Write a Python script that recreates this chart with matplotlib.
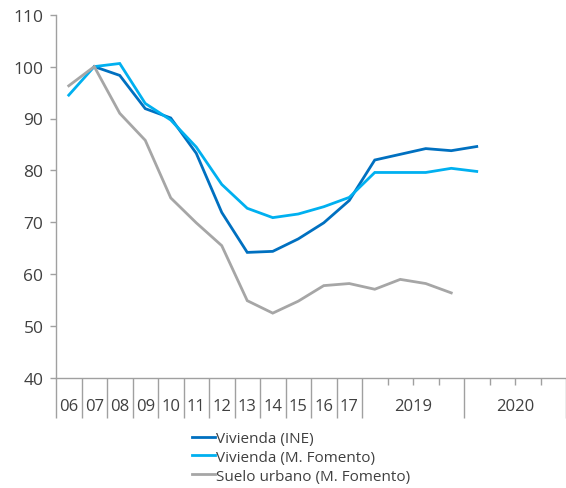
import numpy as np
import matplotlib.pyplot as plt
from matplotlib.lines import Line2D

plt.rcParams['font.family'] = ['Open Sans', 'DejaVu Sans']

# categorias del eje x
annual_labels = ['06', '07', '08', '09', '10', '11', '12', '13', '14', '15', '16', '17']
year_labels = ['2019', '2020']
quarters_per_year = 4

# series (indice)
vivienda_ine = [np.nan, 100.0, 98.3, 91.9, 90.1, 83.3, 71.9, 64.2, 64.4, 66.8, 69.9, 74.2,
                82.0, 83.1, 84.2, 83.8, 84.6]
vivienda_fomento = [94.5, 100.0, 100.6, 92.9, 89.7, 84.5, 77.3, 72.7, 70.9, 71.6, 73.0, 74.8,
                    79.6, 79.6, 79.6, 80.4, 79.8]
suelo_urbano = [96.3, 100.0, 91.0, 85.8, 74.7, 69.9, 65.5, 54.9, 52.5, 54.8, 57.8, 58.2,
                57.1, 59.0, 58.2, 56.4, np.nan]

c_ine = '#0070C0'
c_fom = '#00B0F0'
c_suelo = '#A6A6A6'
axis_c = '#A0A0A0'
text_c = '#404040'

n = len(vivienda_ine)
x = np.arange(n) + 0.5

fig = plt.figure(figsize=(5.66, 4.89), dpi=100)
ax = fig.add_axes([56 / 566, 1 - 379 / 489, 1 - 56 / 566, (379 - 15.7) / 489])

lw = 2.0
ax.plot(x, vivienda_ine, color=c_ine, lw=lw, solid_joinstyle='miter')
ax.plot(x, vivienda_fomento, color=c_fom, lw=lw, solid_joinstyle='miter')
ax.plot(x, suelo_urbano, color=c_suelo, lw=lw, solid_joinstyle='miter')

n_annual = len(annual_labels)
xmax = (566 - 56) / ((366 - 56) / 12)
ax.set_xlim(0, xmax)
ax.set_ylim(40, 110)
ax.set_yticks(range(40, 111, 10))

for s in ['top', 'right']:
    ax.spines[s].set_visible(False)
for s in ['left', 'bottom']:
    ax.spines[s].set_color(axis_c)
    ax.spines[s].set_linewidth(1.0)

ax.tick_params(axis='y', length=4, width=1, color=axis_c, labelsize=12.5, labelcolor=text_c, pad=5)

# separadores largos y marcas de trimestre
major = list(range(0, n_annual + 1)) + [n_annual + quarters_per_year * k for k in range(1, len(year_labels) + 1)]
minor = [n_annual + quarters_per_year * k + q for k in range(len(year_labels)) for q in range(1, quarters_per_year)]
ax.set_xticks(major)
ax.set_xticks(minor, minor=True)
ax.tick_params(axis='x', which='major', length=29, width=1, color=axis_c, labelbottom=False)
ax.tick_params(axis='x', which='minor', length=5, width=1, color=axis_c, labelbottom=False)

tr = ax.get_xaxis_transform()
for i, lab in enumerate(annual_labels):
    ax.text(i + 0.5, -28 / 363.3, lab, transform=tr, ha='center', va='center', fontsize=12, color=text_c)
for k, lab in enumerate(year_labels):
    ax.text(n_annual + quarters_per_year * k + quarters_per_year / 2, -28 / 363.3, lab, transform=tr,
            ha='center', va='center', fontsize=12, color=text_c)

handles = [Line2D([], [], color=c, lw=lw) for c in (c_ine, c_fom, c_suelo)]
labels = ['Vivienda (INE)', 'Vivienda (M. Fomento)', 'Suelo urbano (M. Fomento)']
leg = fig.legend(handles, labels, loc='upper left', bbox_to_anchor=(192 / 566, 1 - 432 / 489),
                 frameon=False, fontsize=11, handlelength=1.5, handletextpad=0.1,
                 labelspacing=0.25, borderpad=0, borderaxespad=0)
for t in leg.get_texts():
    t.set_color(text_c)

fig.savefig('out.png', dpi=100)
